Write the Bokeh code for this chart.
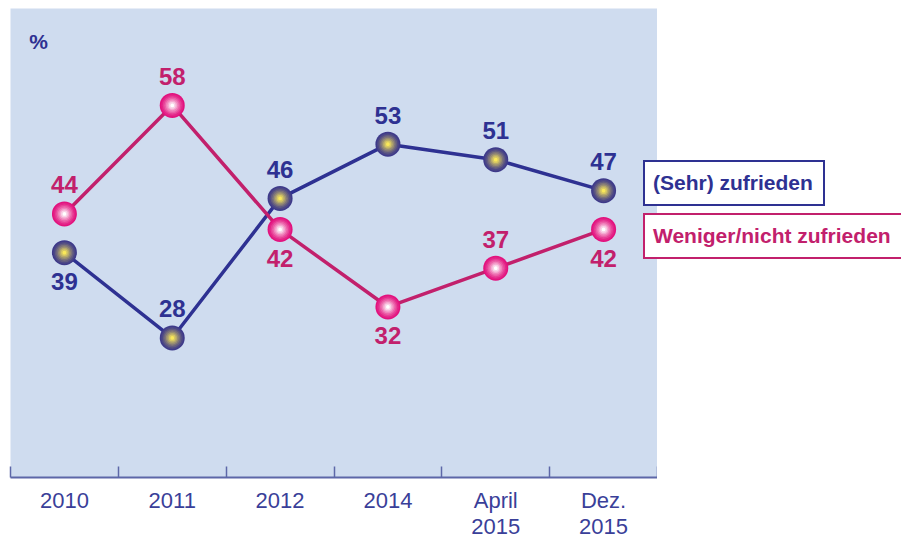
from bokeh.plotting import figure
from bokeh.models import FixedTicker, Label, ColumnDataSource, Range1d, Div
from bokeh.layouts import row
from bokeh.core.properties import value
from bokeh.embed import file_html
from bokeh.resources import INLINE

categories = ["2010", "2011", "2012", "2014", "April\n2015", "Dez.\n2015"]
zufrieden = [39, 28, 46, 53, 51, 47]
nicht_zufrieden = [44, 58, 42, 32, 37, 42]
# label placement: +1 above point, -1 below point
zuf_label_side = [-1, 1, 1, 1, 1, 1]
nicht_label_side = [1, 1, -1, -1, 1, -1]
series_names = ["(Sehr) zufrieden", "Weniger/nicht zufrieden"]

BLUE = "#2e3192"
PINK = "#c2206c"
BG = "#cfdcef"

xs = [i + 0.5 for i in range(len(categories))]

p = figure(frame_width=647, frame_height=469, output_backend="svg", toolbar_location=None,
           x_range=Range1d(0, len(categories)), y_range=Range1d(10, 70.5),
           y_axis_location=None, min_border_left=10, min_border_top=8, min_border_right=0,
           min_border_bottom=0,
           background_fill_color=BG, border_fill_color="white", outline_line_color=None)
p.xgrid.visible = False
p.ygrid.visible = False

ax = p.xaxis[0]
ax.ticker = FixedTicker(ticks=xs, minor_ticks=list(range(len(categories) + 1)))
ax.major_label_overrides = {x: c for x, c in zip(xs, categories)}
ax.major_tick_line_color = None
ax.minor_tick_in = 11
ax.minor_tick_out = 0
ax.minor_tick_line_color = "#5d67a8"
ax.minor_tick_line_width = 1.5
ax.axis_line_color = "#5d67a8"
ax.axis_line_width = 2
ax.major_label_text_font = "Liberation Sans"
ax.major_label_text_font_size = "22px"
ax.major_label_text_line_height = 1.05
ax.major_label_text_color = "#3a3f99"
ax.major_label_standoff = 4


def gradient_markers(ys, edge, center):
    n = 8
    for k in range(n):
        t = k / (n - 1)
        size = 25 * (1 - 0.85 * t)
        col = "#%02x%02x%02x" % tuple(int(edge[j] + (center[j] - edge[j]) * t ** 1.3) for j in range(3))
        p.scatter(xs, ys, size=size, fill_color=col, line_color=None)


p.line(xs, zufrieden, line_color=BLUE, line_width=3.5)
p.line(xs, nicht_zufrieden, line_color=PINK, line_width=3.5)
gradient_markers(zufrieden, (62, 58, 138), (250, 232, 90))
gradient_markers(nicht_zufrieden, (226, 18, 126), (255, 255, 255))

for vals, sides, col in [(zufrieden, zuf_label_side, BLUE), (nicht_zufrieden, nicht_label_side, PINK)]:
    src = ColumnDataSource(dict(x=xs, y=vals, t=[str(v) for v in vals],
                                off=[-29 * s for s in sides]))
    p.text(x="x", y="y", text="t", y_offset="off", source=src, text_align="center",
           text_baseline="middle", text_color=col, text_font=value("Liberation Sans"),
           text_font_style="bold", text_font_size="24px")

p.add_layout(Label(x=0.26, y=66.2, text="%", text_color=BLUE, text_font="Liberation Sans",
                   text_font_style="bold", text_font_size="21px", text_align="center",
                   text_baseline="middle"))

box = ("position:absolute;left:0;height:42px;line-height:42px;padding-left:8px;"
       "background:white;white-space:nowrap;box-sizing:content-box;")
html = f"""
<div style="position:relative;left:-19px;width:300px;height:300px;
 font-family:'Liberation Sans';font-weight:bold;font-size:21px;">
 <div style="{box}top:155px;width:170px;border:2px solid {BLUE};color:{BLUE};">{series_names[0]}</div>
 <div style="{box}top:208px;width:290px;border:2px solid {PINK};color:{PINK};">{series_names[1]}</div>
</div>
"""
legend = Div(text=html, width=244, height=300)

layout = row(p, legend)
open("out.html", "w").write(file_html(layout, INLINE))
